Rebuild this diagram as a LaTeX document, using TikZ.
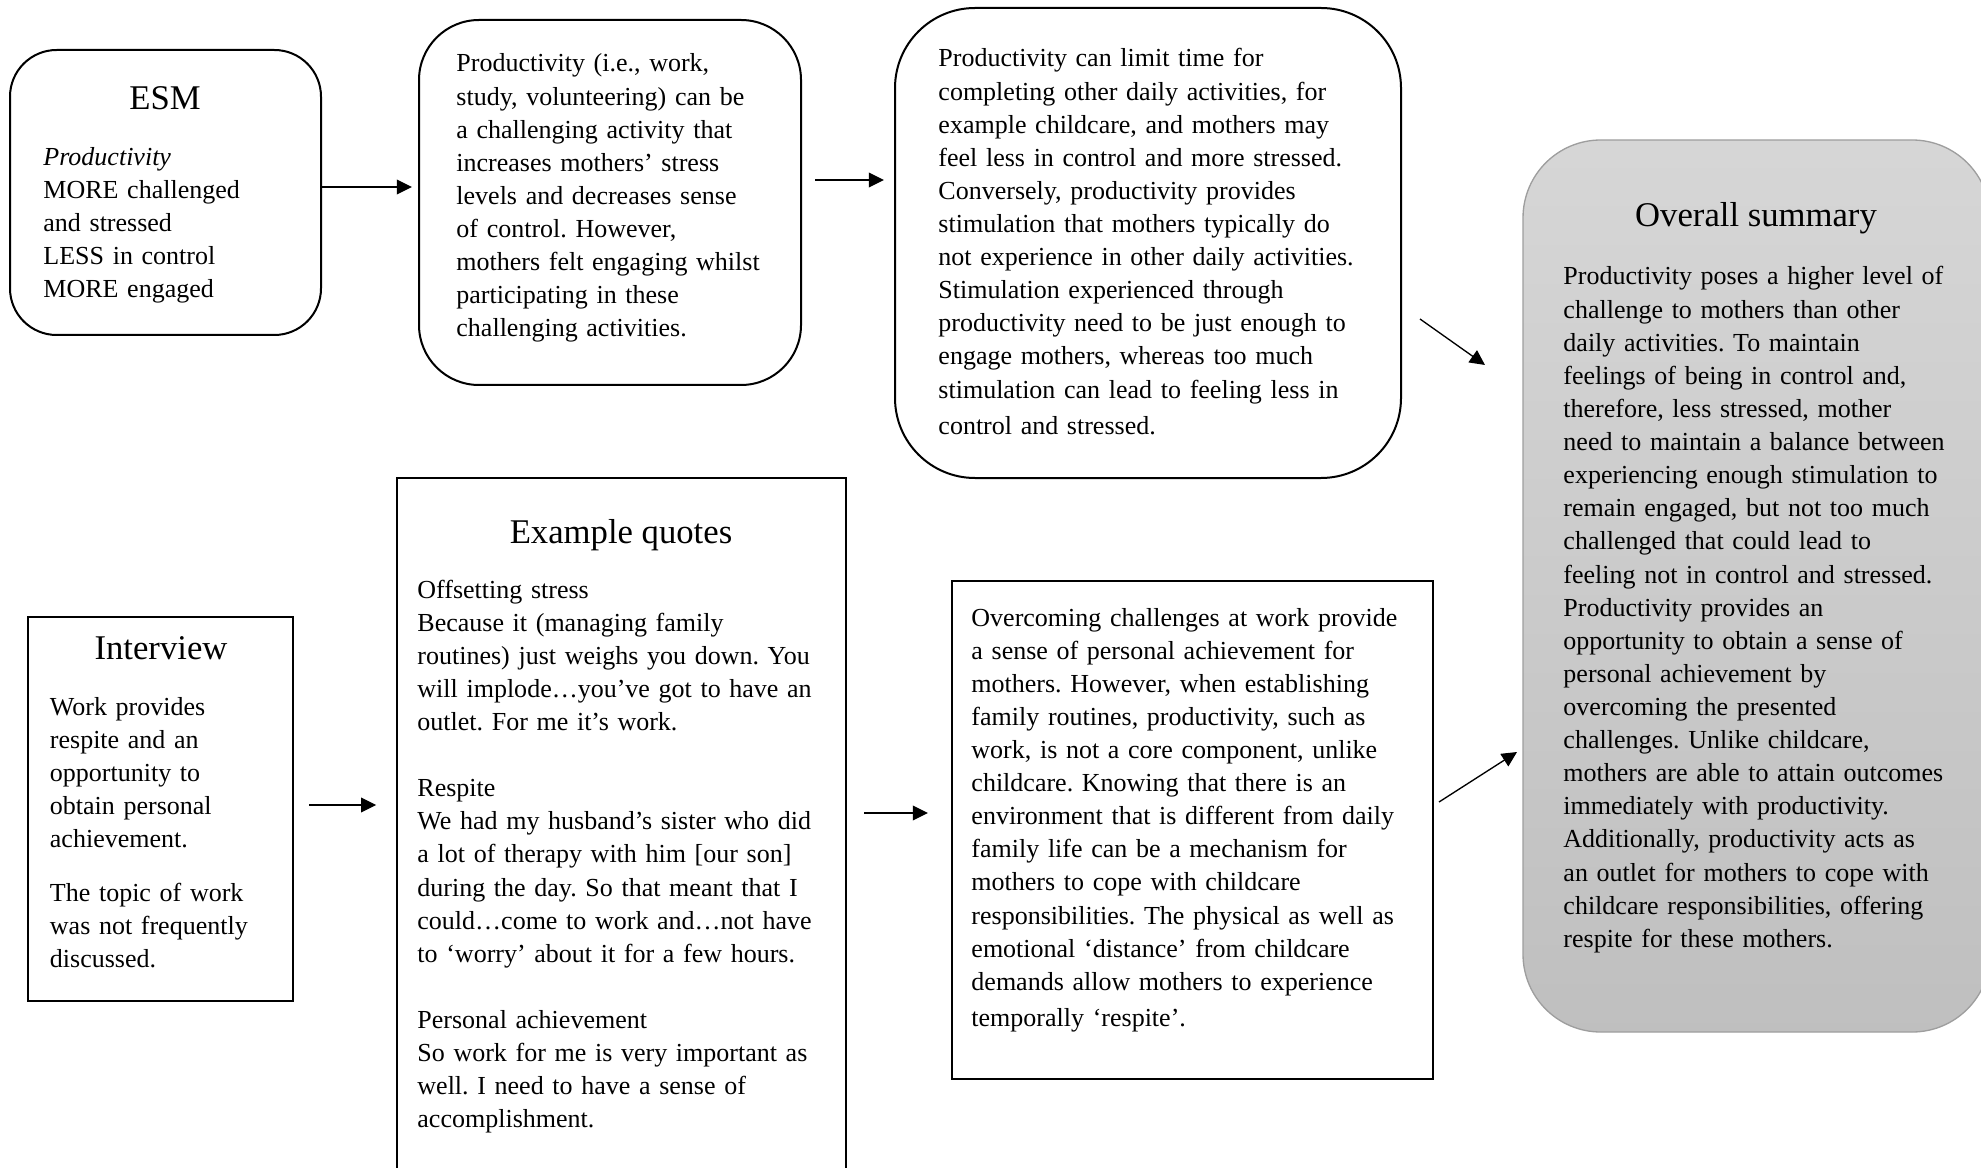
\documentclass[tikz,border=0pt]{standalone}
\usepackage{fontspec}
\setmainfont{Liberation Serif}
\usetikzlibrary{arrows.meta,calc}
\frenchspacing
\begin{document}
\begin{tikzpicture}[x=0.45pt,y=-0.45pt,
  box/.style 2 args={draw=black, line width=0.9pt, anchor=north west,
    inner sep=0pt, outer sep=0pt, minimum width=#1*0.45pt, minimum height=#2*0.45pt},
  body/.style={anchor=base west, inner sep=0pt, align=left, text width=215pt,
    font=\fontsize{11.7}{14.9}\selectfont},
  head/.style={anchor=base, inner sep=0pt, font=\fontsize{15.6}{18}\selectfont},
  arr/.style={line width=0.6pt, -{Triangle[length=6.8pt,width=6.6pt]}}]

\useasboundingbox (0,0) rectangle (1981,1168);
\clip (0,0) rectangle (1981,1168);

% ---- boxes ----
\node[box={311}{285}, rounded corners=21pt] (esm) at (10,50) {};
\node[box={382}{365}, rounded corners=27pt] (p2) at (419,20) {};
\node[box={506}{470}, rounded corners=36pt] (p3) at (895,8) {};
\node[box={467}{892}, rounded corners=35pt, draw=black!38, line width=0.6pt,
      top color=black!16, bottom color=black!25] (sum) at (1523,140) {};
\node[box={265}{384}] (iv) at (28,617) {};
\node[box={449}{760}] (qt) at (397,478) {};
\node[box={481}{498}] (ov) at (952,581) {};

% ---- headings ----
\node[head] (esmT) at (165,110) {ESM};
\node[head] (ivT) at (161,659) {Interview};
\node[head] (qtT) at (621,543) {Example quotes};
\node[head] (sumT) at (1756,227) {Overall summary};

% ---- texts ----
\node[body] (esmB) at (43,165.5) {\textit{Productivity}\\
MORE challenged\\ and stressed\\ LESS in control\\ MORE engaged};

\node[body] (p2B) at (456,72) {Productivity (i.e., work,\\
study, volunteering) can be\\ a challenging activity that\\
increases mothers’ stress\\ levels and decreases sense\\
of control. However,\\ mothers felt engaging whilst\\
participating in these\\ challenging activities.};

\node[body] (p3B) at (938,67) {Productivity can limit time for\\
completing other daily activities, for\\ example childcare, and mothers may\\
feel less in control and more stressed.\\ Conversely, productivity provides\\
stimulation that mothers typically do\\ not experience in other daily activities.\\
Stimulation experienced through\\ productivity need to be just enough to\\
engage mothers, whereas too much\\ stimulation can lead to feeling less in\\[1.4pt]
control and stressed.};

\node[body] (sumB) at (1563,285) {Productivity poses a higher level of\\
challenge to mothers than other\\ daily activities. To maintain\\
feelings of being in control and,\\ therefore, less stressed, mother\\
need to maintain a balance between\\ experiencing enough stimulation to\\
remain engaged, but not too much\\ challenged that could lead to\\
feeling not in control and stressed.\\ Productivity provides an\\
opportunity to obtain a sense of\\ personal achievement by\\
overcoming the presented\\ challenges. Unlike childcare,\\
mothers are able to attain outcomes\\ immediately with productivity.\\
Additionally, productivity acts as\\ an outlet for mothers to cope with\\
childcare responsibilities, offering\\ respite for these mothers.};

\node[body] (ivB) at (49.5,715) {Work provides\\ respite and an\\
opportunity to\\ obtain personal\\ achievement.\\[9.4pt]
The topic of work\\ was not frequently\\ discussed.};

\node[body] (qtB) at (417,598) {Offsetting stress\\
Because it (managing family\\ routines) just weighs you down. You\\
will implode…you’ve got to have an\\ outlet. For me it’s work.\\[14.9pt]
Respite\\ We had my husband’s sister who did\\
a lot of therapy with him [our son]\\ during the day. So that meant that I\\
could…come to work and…not have\\ to ‘worry’ about it for a few hours.\\[14.9pt]
Personal achievement\\ So work for me is very important as\\
well. I need to have a sense of\\ accomplishment.};

\node[body] (ovB) at (971,626) {Overcoming challenges at work provide\\
a sense of personal achievement for\\ mothers. However, when establishing\\
family routines, productivity, such as\\ work, is not a core component, unlike\\
childcare. Knowing that there is an\\ environment that is different from daily\\
family life can be a mechanism for\\ mothers to cope with childcare\\
responsibilities. The physical as well as\\ emotional ‘distance’ from childcare\\
demands allow mothers to experience\\[1.4pt] temporally ‘respite’.};

% ---- connectors ----
\coordinate (yA) at (0,187);
\coordinate (yB) at (0,180);
\coordinate (yC) at (0,805);
\coordinate (yD) at (0,813);
\draw[arr, shorten >=3.2pt] (esm.east |- yA) -- (p2.west |- yA);
\draw[arr, shorten <=6.3pt, shorten >=5pt] (p2.east |- yB) -- (p3.west |- yB);
\draw[arr] ($(p3.east)+(19,76)$) -- ($(sum.west)+(-38,-221)$);
\draw[arr, shorten <=7.2pt, shorten >=9.4pt] (iv.east |- yC) -- (qt.west |- yC);
\draw[arr, shorten <=8.1pt, shorten >=10.8pt] (qt.east |- yD) -- (ov.west |- yD);
\draw[arr] ($(ov.east)+(6,-28)$) -- ($(sum.west)+(-6,166)$);
\end{tikzpicture}
\end{document}
